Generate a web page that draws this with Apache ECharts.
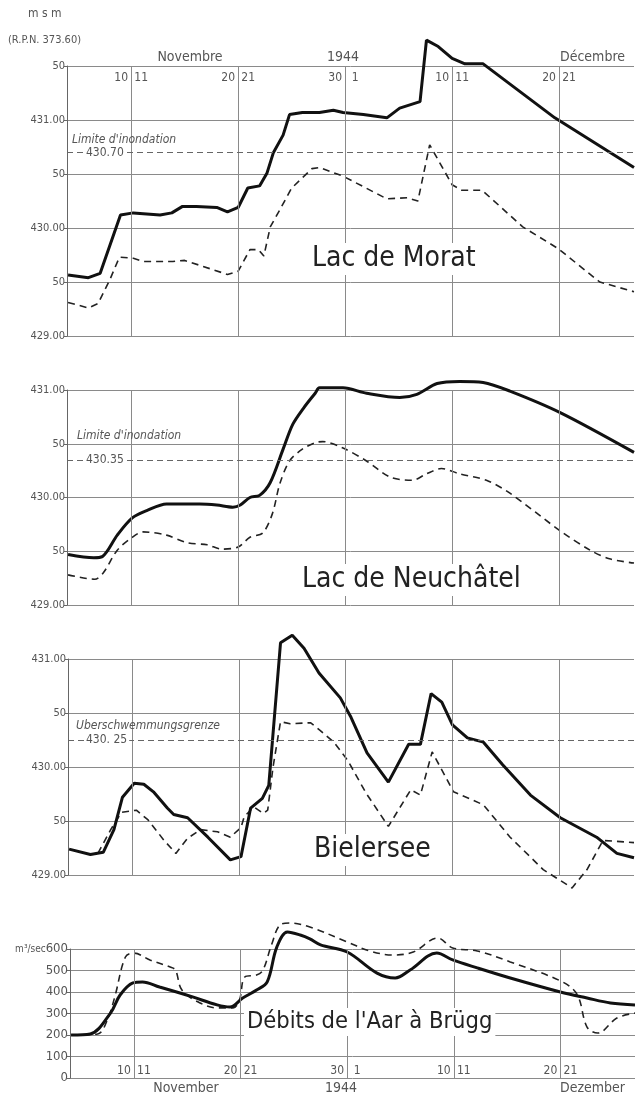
<!DOCTYPE html>
<html>
<head>
<meta charset="utf-8">
<script src="https://cdn.jsdelivr.net/npm/echarts@6/dist/echarts.min.js"></script>
<style>
  html, body { margin: 0; padding: 0; background: #fff; }
  #chart { width: 635px; height: 1097px; }
</style>
</head>
<body>
<div id="chart"></div>
<script>
// days: 1 = 1 Nov, 31 = 1 Dec ; day boundaries drawn at x.5
var dayBoundaries = [10.5, 20.5, 30.5, 40.5, 50.5];
var dayLeft = ['10', '20', '30', '10', '20'];
var dayRight = ['11', '21', '1', '11', '21'];

// Lac de Morat
var moratSolidDays = [4.6, 6.5, 7.6, 9.5, 10.7, 13.2, 14.3, 15.3, 16.6, 18.5, 19.5, 20.5, 21.4, 22.5, 23.2, 23.8, 24.7, 25.3, 26.5, 28.1, 29.4, 30.3, 32.2, 34.4, 35.6, 37.5, 38.1, 39.2, 40.5, 41.7, 43.4, 50.1, 57.5];
var moratSolid = [429.565, 429.54, 429.58, 430.12, 430.14, 430.12, 430.14, 430.20, 430.20, 430.19, 430.15, 430.19, 430.37, 430.39, 430.51, 430.70, 430.86, 431.05, 431.07, 431.07, 431.09, 431.07, 431.05, 431.02, 431.11, 431.17, 431.74, 431.68, 431.57, 431.52, 431.52, 431.02, 430.56];
var moratDashDays = [4.6, 6.5, 7.4, 8.5, 9.4, 10.7, 11.6, 14.4, 15.5, 19.5, 20.5, 21.6, 22.4, 22.9, 23.5, 24.4, 25.5, 27.4, 28.1, 30.3, 34.4, 36.3, 37.3, 38.4, 40.5, 41.4, 43.3, 47.1, 50.4, 54.3, 57.5];
var moratDash = [429.31, 429.26, 429.30, 429.52, 429.73, 429.72, 429.69, 429.69, 429.70, 429.57, 429.60, 429.80, 429.80, 429.74, 430.01, 430.17, 430.37, 430.55, 430.56, 430.48, 430.27, 430.28, 430.25, 430.77, 430.40, 430.35, 430.35, 430.01, 429.81, 429.50, 429.41];

// Lac de Neuchâtel
var neuchSolidDays = [4.6, 7.0, 7.8, 9.2, 10.6, 12.0, 13.8, 16.9, 18.5, 20.0, 20.7, 21.6, 22.5, 23.5, 24.7, 25.6, 26.6, 27.7, 28.1, 30.3, 32.5, 35.6, 37.2, 39.1, 41.2, 43.4, 45.9, 50.6, 57.5];
var neuchSolid = [429.47, 429.44, 429.45, 429.65, 429.81, 429.88, 429.94, 429.94, 429.93, 429.91, 429.93, 430.00, 430.02, 430.14, 430.45, 430.68, 430.83, 430.97, 431.02, 431.02, 430.97, 430.93, 430.96, 431.06, 431.08, 431.07, 430.99, 430.79, 430.42];
var neuchDashDays = [4.6, 7.1, 7.9, 9.2, 10.6, 11.6, 13.8, 15.7, 17.6, 19.0, 20.5, 21.6, 22.8, 23.7, 24.4, 25.3, 26.5, 27.7, 28.4, 30.3, 32.5, 34.7, 36.8, 38.1, 39.5, 41.2, 43.7, 45.9, 50.6, 53.4, 55.2, 57.5];
var neuchDash = [429.28, 429.24, 429.30, 429.51, 429.63, 429.68, 429.65, 429.58, 429.56, 429.52, 429.54, 429.63, 429.67, 429.85, 430.13, 430.34, 430.45, 430.51, 430.52, 430.46, 430.34, 430.19, 430.16, 430.22, 430.27, 430.22, 430.16, 430.04, 429.69, 429.51, 429.43, 429.39];

// Bielersee
var bielSolidDays = [4.6, 6.6, 7.8, 8.8, 9.6, 10.7, 11.6, 12.5, 13.8, 14.4, 15.7, 17.6, 19.7, 20.7, 21.6, 22.7, 23.3, 24.4, 25.5, 26.6, 28.0, 30.0, 31.0, 32.5, 34.5, 36.4, 37.5, 38.5, 39.5, 40.5, 41.9, 43.4, 45.2, 47.8, 50.6, 54.0, 55.9, 57.5];
var bielSolid = [429.24, 429.19, 429.21, 429.42, 429.72, 429.85, 429.84, 429.77, 429.62, 429.56, 429.53, 429.35, 429.14, 429.17, 429.62, 429.71, 429.83, 431.15, 431.22, 431.10, 430.87, 430.64, 430.46, 430.13, 429.86, 430.21, 430.21, 430.68, 430.60, 430.39, 430.27, 430.23, 430.02, 429.74, 429.53, 429.35, 429.20, 429.16];
var bielDashDays = [7.3, 8.5, 9.5, 10.9, 12.0, 13.5, 14.6, 15.7, 16.9, 18.5, 19.7, 20.7, 21.0, 21.9, 22.8, 23.2, 23.7, 24.4, 25.3, 27.2, 28.1, 29.4, 30.7, 32.4, 34.5, 36.6, 37.5, 38.6, 40.6, 43.4, 45.9, 49.0, 51.7, 53.1, 54.6, 57.5];
var bielDash = [429.20, 429.42, 429.58, 429.60, 429.51, 429.32, 429.20, 429.34, 429.42, 429.40, 429.35, 429.44, 429.54, 429.63, 429.57, 429.60, 430.00, 430.42, 430.40, 430.41, 430.34, 430.23, 430.06, 429.76, 429.45, 429.79, 429.74, 430.14, 429.77, 429.65, 429.35, 429.05, 428.88, 429.05, 429.32, 429.30];

// Débits de l'Aar à Brügg (m3/sec)
var aarSolidDays = [4.6, 6.4, 8.3, 9.2, 10.4, 11.3, 12.9, 14.5, 16.0, 18.3, 19.5, 20.7, 22.0, 23.0, 23.9, 24.9, 26.1, 27.0, 28.0, 30.5, 33.3, 35.0, 36.4, 38.9, 40.4, 42.7, 45.8, 50.5, 53.0, 55.2, 57.5];
var aarSolid = [200, 205, 302, 386, 442, 447, 423, 400, 377, 340, 330, 372, 409, 447, 609, 679, 665, 647, 619, 586, 488, 465, 502, 581, 549, 512, 465, 400, 372, 349, 340];
var aarDashDays = [4.6, 7.1, 8.0, 8.7, 9.7, 10.5, 12.0, 13.9, 14.4, 15.0, 16.7, 18.3, 19.8, 20.4, 20.9, 22.0, 22.6, 23.4, 24.2, 25.1, 27.0, 30.5, 32.6, 34.8, 36.7, 39.0, 40.4, 42.7, 45.8, 50.7, 52.1, 53.0, 54.0, 55.8, 57.5];
var aarDash = [200, 205, 270, 377, 563, 581, 549, 516, 502, 409, 349, 326, 326, 363, 470, 479, 502, 619, 712, 721, 702, 633, 591, 572, 586, 651, 605, 591, 540, 447, 386, 237, 209, 279, 302];

// flood limits
var limits = [430.70, 430.35, 430.25];
var limitTitles = ["Limite d'inondation", "Limite d'inondation", 'Uberschwemmungsgrenze'];
var limitLabels = ['430.70', '430.35', '430. 25'];
var lakeNames = ['Lac de Morat', 'Lac de Neuchâtel', 'Bielersee', "Débits de l'Aar à Brügg"];

var FONT = '"DejaVu Sans Condensed", "Liberation Sans Narrow", sans-serif';
var GREY = '#555';
var GRID_COLOR = '#8a8a8a';

var chart = echarts.init(document.getElementById('chart'));

function pairs(xs, ys) {
  return xs.map(function (x, i) { return [x, ys[i]]; });
}

var grids = [
  { left: 67, right: 1, top: 66, height: 270 },
  { left: 67, right: 1, top: 390, height: 215 },
  { left: 68, right: 1, top: 659, height: 216 },
  { left: 70, right: 0, top: 949, height: 129 }
];

var dayRich = {
  a: { width: 14, align: 'right', padding: [0, 3, 0, 0], fontSize: 12, color: GREY, fontFamily: FONT },
  b: { width: 14, align: 'left', padding: [0, 0, 0, 3], fontSize: 12, color: GREY, fontFamily: FONT }
};
function dayFormatter(v) {
  var i = dayBoundaries.indexOf(v);
  if (i < 0) return '';
  return '{a|' + dayLeft[i] + '}{b|' + dayRight[i] + '}';
}

var xAxes = grids.map(function (g, i) {
  var showLabels = (i === 0 || i === 3);
  return {
    type: 'value',
    gridIndex: i,
    min: 4.5,
    max: 57.5,
    position: i === 0 ? 'top' : 'bottom',
    axisLine: { show: false },
    axisTick: { show: false },
    splitLine: { show: false },
    axisLabel: {
      show: showLabels,
      inside: true,
      margin: i === 0 ? 6 : 1,
      customValues: dayBoundaries,
      formatter: dayFormatter,
      rich: dayRich
    }
  };
});

function lakeLabel(v) {
  return Math.abs(v - Math.round(v)) < 1e-6 ? v.toFixed(2) : '50';
}

var yAxes = grids.map(function (g, i) {
  var isFlow = i === 3;
  return {
    type: 'value',
    gridIndex: i,
    min: isFlow ? 0 : 429,
    max: isFlow ? 600 : (i === 0 ? 431.5 : 431),
    interval: isFlow ? 100 : 0.5,
    axisLine: { show: true, lineStyle: { color: '#666', width: 1 } },
    axisTick: { show: true, length: 3, lineStyle: { color: '#666' } },
    splitLine: { show: true, lineStyle: { color: GRID_COLOR, width: 1 } },
    axisLabel: {
      margin: 2,
      color: GREY,
      fontFamily: FONT,
      fontSize: isFlow ? 13 : 11,
      formatter: isFlow ? function (v) { return v === 600 ? '{u|m³/sec}600' : String(v); } : lakeLabel,
      rich: { u: { fontSize: 10, color: GREY, fontFamily: FONT } }
    }
  };
});

var panels = [
  [moratSolidDays, moratSolid, moratDashDays, moratDash, false],
  [neuchSolidDays, neuchSolid, neuchDashDays, neuchDash, 0.3],
  [bielSolidDays, bielSolid, bielDashDays, bielDash, false],
  [aarSolidDays, aarSolid, aarDashDays, aarDash, 0.35]
];

var series = [];
panels.forEach(function (p, i) {
  // vertical day grid lines + flood limit
  var marks = dayBoundaries.map(function (d) {
    return { xAxis: d, lineStyle: { color: GRID_COLOR, width: 1, type: 'solid' } };
  });
  if (i < 3) {
    marks.push({ yAxis: limits[i], lineStyle: { color: '#666', width: 1, type: [6, 4] } });
  }
  series.push({
    type: 'line',
    xAxisIndex: i,
    yAxisIndex: i,
    data: [],
    z: 1,
    silent: true,
    markLine: {
      silent: true,
      symbol: ['none', 'none'],
      label: { show: false },
      animation: false,
      data: marks
    }
  });
  series.push({
    type: 'line',
    xAxisIndex: i,
    yAxisIndex: i,
    data: pairs(p[2], p[3]),
    symbol: 'none',
    clip: false,
    smooth: p[4],
    z: 3,
    silent: true,
    lineStyle: { color: '#222', width: 1.6, type: [7, 5] }
  });
  series.push({
    type: 'line',
    xAxisIndex: i,
    yAxisIndex: i,
    data: pairs(p[0], p[1]),
    symbol: 'none',
    clip: false,
    smooth: p[4],
    z: 4,
    silent: true,
    lineStyle: { color: '#111', width: 3 }
  });
});

chart.setOption({
  animation: false,
  backgroundColor: '#fff',
  grid: grids,
  xAxis: xAxes,
  yAxis: yAxes,
  series: series
});

// annotations
function txt(text, x, y, size, opts) {
  opts = opts || {};
  return {
    type: 'text',
    z: 10,
    style: {
      text: text,
      x: x,
      y: y,
      fill: opts.fill || GREY,
      font: (opts.italic ? 'italic ' : '') + size + 'px ' + FONT,
      textAlign: opts.align || 'left',
      textVerticalAlign: 'middle',
      backgroundColor: opts.bg,
      padding: opts.pad
    }
  };
}

var titlePos = [[309, 259], [299, 580], [311, 850], [244, 1022]];
var titleSize = [28, 28, 28, 23.5];
var limitTitleOffset = [[72, -13], [77, -24], [76, -14]];
var graphics = [
  txt('m s m', 28, 14, 12),
  txt('(R.P.N. 373.60)', 8, 40, 11),
  txt('Novembre', 190, 57, 14, { align: 'center' }),
  txt('1944', 343, 57, 14, { align: 'center' }),
  txt('Décembre', 625, 57, 14, { align: 'right' }),
  txt('November', 186, 1088, 14, { align: 'center' }),
  txt('1944', 341, 1088, 14, { align: 'center' }),
  txt('Dezember', 625, 1088, 14, { align: 'right' })
];
lakeNames.forEach(function (name, i) {
  graphics.push(txt(name, titlePos[i][0], titlePos[i][1], titleSize[i], { fill: '#222', bg: '#fff', pad: [2, 3] }));
});
limits.forEach(function (v, i) {
  var py = chart.convertToPixel({ yAxisIndex: i }, v);
  graphics.push(txt(limitTitles[i], limitTitleOffset[i][0], py + limitTitleOffset[i][1], 12, { italic: true }));
  graphics.push(txt(limitLabels[i], 84, py, 12, { bg: '#fff', pad: [0, 2] }));
});
chart.setOption({ graphic: graphics });
</script>
</body>
</html>
